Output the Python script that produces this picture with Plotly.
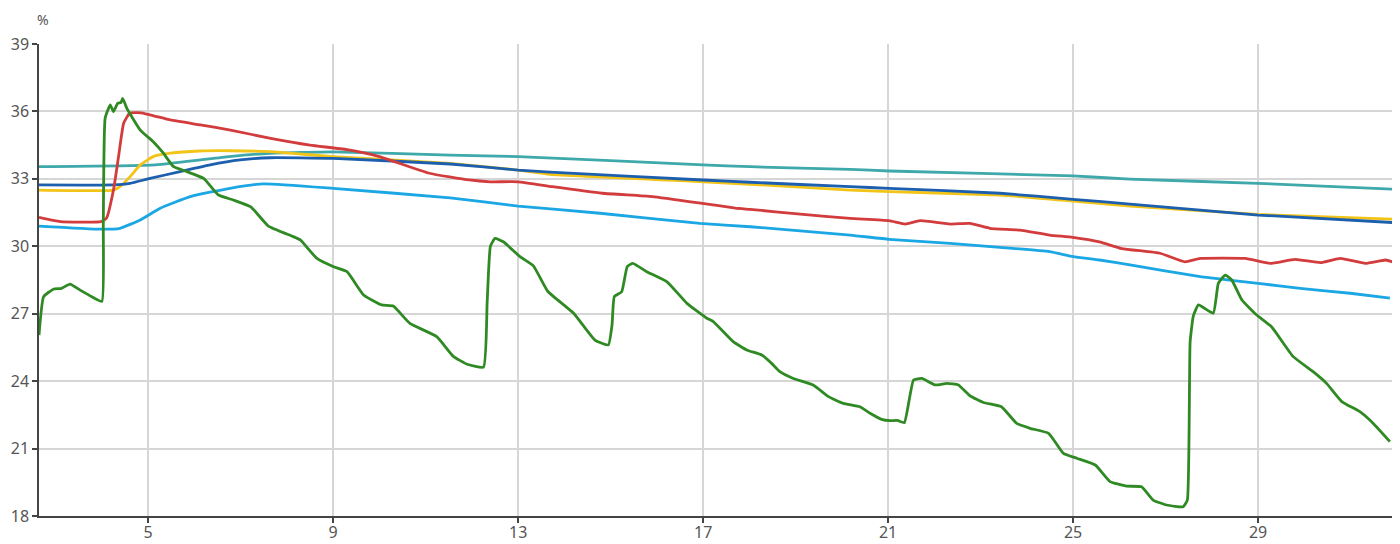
import plotly.graph_objects as go

# ---- data (x = day, y = %) ----
green_x = [2.64, 2.74, 2.95, 3.13, 3.31, 3.53, 3.78, 4.00, 4.03, 4.07, 4.18, 4.25, 4.34, 4.41, 4.45, 4.54,
           4.83, 5.11, 5.33, 5.55, 5.84, 6.20, 6.52, 6.84, 7.22, 7.60, 8.14, 8.29, 8.65, 9.01, 9.30, 9.66,
           10.05, 10.30, 10.66, 11.24, 11.60, 11.90, 12.25, 12.33, 12.40, 12.50, 12.68, 13.04, 13.33, 13.64,
           14.20, 14.66, 14.95, 15.03, 15.08, 15.24, 15.36, 15.48, 15.78, 16.22, 16.65, 17.08, 17.22, 17.65,
           17.94, 18.27, 18.48, 18.66, 18.95, 19.38, 19.71, 20.03, 20.39, 20.61, 20.86, 21.04, 21.20, 21.35,
           21.55, 21.73, 22.02, 22.27, 22.52, 22.77, 23.06, 23.45, 23.78, 24.07, 24.47, 24.79, 25.08, 25.48,
           25.80, 26.16, 26.48, 26.73, 27.02, 27.38, 27.47, 27.53, 27.60, 27.71, 28.03, 28.14, 28.29, 28.43,
           28.65, 28.97, 29.29, 29.76, 30.19, 30.48, 30.81, 31.20, 31.49, 31.85]
green_y = [26.05, 27.76, 28.09, 28.13, 28.32, 28.05, 27.76, 27.55, 31.0, 35.7, 36.29, 35.99, 36.36, 36.39, 36.58, 36.14,
           35.17, 34.65, 34.14, 33.54, 33.32, 33.02, 32.28, 32.06, 31.75, 30.9, 30.43, 30.28, 29.46, 29.09, 28.87, 27.83,
           27.39, 27.34, 26.57, 25.98, 25.1, 24.75, 24.62, 27.5, 30.0, 30.35, 30.20, 29.54, 29.13, 28.0,
           27.02, 25.83, 25.61, 26.5, 27.76, 27.98, 29.1, 29.24, 28.87, 28.42, 27.46, 26.80, 26.65, 25.76,
           25.39, 25.16, 24.79, 24.42, 24.12, 23.83, 23.31, 23.01, 22.86, 22.57, 22.30, 22.24, 22.25, 22.15,
           24.05, 24.12, 23.83, 23.90, 23.83, 23.35, 23.05, 22.86, 22.12, 21.90, 21.68, 20.79, 20.57, 20.27,
           19.53, 19.33, 19.30, 18.71, 18.49, 18.41, 18.71, 25.75, 26.9, 27.39, 27.02, 28.35, 28.72, 28.50,
           27.61, 26.94, 26.42, 25.09, 24.42, 23.90, 23.09, 22.64, 22.12, 21.31]

red_x = [2.64, 3.10, 3.98, 4.10, 4.25, 4.36, 4.47, 4.60, 4.85, 5.48, 6.13, 6.78, 7.65, 8.50, 9.30, 10.00,
         11.08, 11.94, 12.40, 13.00, 13.74, 14.82, 15.90, 16.98, 17.70, 18.02, 19.10, 20.18, 21.02, 21.37,
         21.69, 22.34, 22.77, 23.20, 23.85, 24.49, 24.99, 25.57, 26.05, 26.88, 27.42, 27.75, 28.72, 29.26,
         29.80, 30.35, 30.78, 31.32, 31.76, 31.93]
red_y = [31.29, 31.10, 31.10, 31.25, 32.50, 33.99, 35.47, 35.92, 35.94, 35.62, 35.40, 35.17, 34.80, 34.50, 34.30, 33.99,
         33.25, 32.95, 32.87, 32.87, 32.65, 32.36, 32.21, 31.91, 31.70, 31.64, 31.43, 31.24, 31.14, 30.99,
         31.14, 30.99, 31.02, 30.80, 30.72, 30.50, 30.40, 30.20, 29.90, 29.69, 29.31, 29.46, 29.46, 29.24,
         29.42, 29.27, 29.46, 29.24, 29.39, 29.29]

yellow_x = [2.64, 4.25, 4.39, 4.61, 4.83, 5.11, 5.48, 6.12, 6.77, 7.64, 9.00, 11.53, 13.00, 13.69, 17.00,
            18.02, 20.18, 21.02, 23.42, 25.00, 26.23, 29.00, 31.96]
yellow_y = [32.50, 32.50, 32.65, 33.10, 33.62, 33.99, 34.14, 34.24, 34.25, 34.21, 33.99, 33.69, 33.39, 33.20, 32.87,
            32.76, 32.50, 32.43, 32.28, 32.01, 31.79, 31.42, 31.20]

darkblue_x = [2.64, 4.25, 4.61, 5.04, 5.69, 6.34, 6.99, 7.64, 9.00, 11.53, 13.00, 13.69, 17.00, 18.02, 20.18,
              21.02, 23.42, 25.00, 26.23, 29.00, 31.96]
darkblue_y = [32.73, 32.73, 32.80, 33.02, 33.32, 33.62, 33.84, 33.94, 33.91, 33.66, 33.39, 33.30, 32.95, 32.85, 32.65,
              32.58, 32.36, 32.09, 31.88, 31.39, 31.05]

teal_x = [2.64, 5.16, 6.75, 7.64, 9.00, 11.53, 13.00, 17.00, 18.02, 20.18, 21.02, 25.00, 26.23, 29.00, 31.96]
teal_y = [33.54, 33.62, 33.99, 34.14, 34.20, 34.06, 33.99, 33.62, 33.54, 33.42, 33.35, 33.13, 32.99, 32.80, 32.54]

lightblue_x = [2.64, 3.96, 4.39, 4.83, 5.26, 5.91, 6.77, 7.50, 9.00, 11.53, 13.00, 14.77, 16.93, 18.02, 20.18,
               21.02, 22.34, 23.42, 24.49, 25.00, 25.57, 26.23, 27.75, 28.03, 29.00, 29.91, 30.99, 31.85]
lightblue_y = [30.90, 30.76, 30.80, 31.17, 31.69, 32.21, 32.58, 32.78, 32.58, 32.15, 31.79, 31.47, 31.02, 30.87, 30.50,
               30.31, 30.13, 29.95, 29.76, 29.54, 29.39, 29.17, 28.65, 28.58, 28.35, 28.13, 27.91, 27.69]

x_ticks = [5, 9, 13, 17, 21, 25, 29]
y_ticks = [18, 21, 24, 27, 30, 33, 36, 39]

series = [
    ("teal", teal_x, teal_y, "#3ea8aa"),
    ("lightblue", lightblue_x, lightblue_y, "#1ba6e4"),
    ("yellow", yellow_x, yellow_y, "#f2c417"),
    ("darkblue", darkblue_x, darkblue_y, "#1c5fae"),
    ("red", red_x, red_y, "#d23c3c"),
    ("green", green_x, green_y, "#2f8a24"),
]

fig = go.Figure()
for name, xs, ys, col in series:
    fig.add_trace(go.Scatter(x=xs, y=ys, mode="lines", name=name,
                             line=dict(color=col, width=2.8, shape="spline", smoothing=0.4)))

axis_font = dict(family="Noto Sans, Open Sans, sans-serif", size=16, color="#555555")

# page body has an 8px margin, so the figure is 8px smaller and the plot area is shifted accordingly
fig.update_layout(
    width=1392, height=536,
    margin=dict(l=31, r=5, t=36, b=28, autoexpand=False),
    paper_bgcolor="white", plot_bgcolor="white",
    showlegend=False,
    xaxis=dict(range=[2.64, 31.96], tickvals=x_ticks, ticktext=[str(v) for v in x_ticks],
               showgrid=True, gridcolor="#d6d6d6", gridwidth=1.5, automargin=False,
               showline=True, linecolor="#444444", linewidth=1.5,
               ticks="outside", ticklen=5, tickcolor="#444444", tickwidth=1.5,
               ticklabelstandoff=-4,
               tickfont=axis_font, zeroline=False),
    yaxis=dict(range=[18, 39], tickvals=y_ticks, ticktext=[str(v) for v in y_ticks],
               showgrid=True, gridcolor="#d6d6d6", gridwidth=1.5, automargin=False,
               showline=True, linecolor="#444444", linewidth=1.5,
               ticks="outside", ticklen=5, tickcolor="#444444", tickwidth=1.5,
               tickfont=axis_font, zeroline=False),
    shapes=[dict(type="line", xref="paper", yref="paper", x0=1, x1=1, y0=0, y1=1,
                 line=dict(color="#d6d6d6", width=1.5), layer="below")],
    annotations=[dict(text="%", xref="paper", yref="paper", x=0, y=1, xanchor="center", yanchor="bottom",
                      xshift=4, yshift=13, showarrow=False,
                      font=dict(family="Noto Sans, Open Sans, sans-serif", size=14, color="#555555"))],
)

fig.write_html("out.html")
